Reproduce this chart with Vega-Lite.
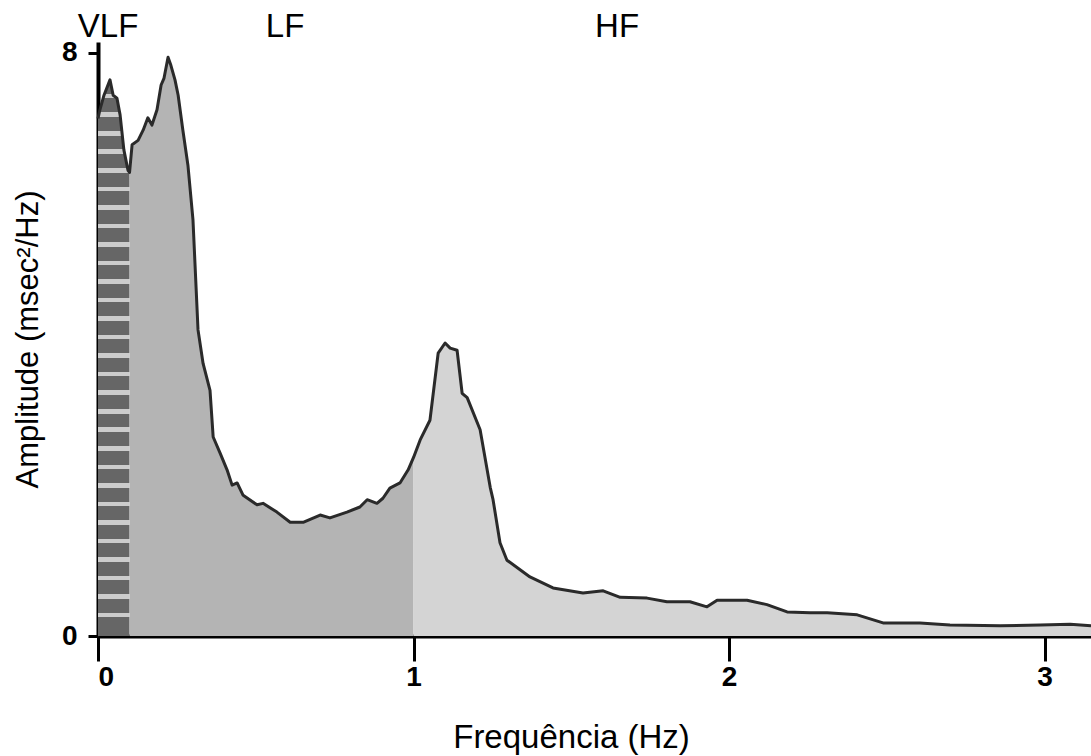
{
  "$schema": "https://vega.github.io/schema/vega-lite/v6.json",
  "width": 993,
  "height": 594,
  "autosize": "none",
  "padding": {"left": 98, "top": 42, "right": 0, "bottom": 120},
  "config": {
    "view": {"stroke": null},
    "font": "Liberation Sans",
    "axis": {"grid": false, "domainColor": "#000", "tickColor": "#000", "labelColor": "#000", "titleColor": "#000"}
  },
  "datasets": {
    "curve": [
      {"f": 0.0, "a": 7.1, "band": "VLF"},
      {"f": 0.006, "a": 7.22, "band": "VLF"},
      {"f": 0.019, "a": 7.42, "band": "VLF"},
      {"f": 0.038, "a": 7.63, "band": "VLF"},
      {"f": 0.048, "a": 7.42, "band": "VLF"},
      {"f": 0.06, "a": 7.38, "band": "VLF"},
      {"f": 0.07, "a": 7.15, "band": "VLF"},
      {"f": 0.082, "a": 6.67, "band": "VLF"},
      {"f": 0.095, "a": 6.39, "band": "VLF"},
      {"f": 0.1, "a": 6.36, "band": "VLF"},
      {"f": 0.1, "a": 6.36, "band": "LF"},
      {"f": 0.108, "a": 6.74, "band": "LF"},
      {"f": 0.127, "a": 6.8, "band": "LF"},
      {"f": 0.143, "a": 6.94, "band": "LF"},
      {"f": 0.158, "a": 7.11, "band": "LF"},
      {"f": 0.171, "a": 7.01, "band": "LF"},
      {"f": 0.187, "a": 7.22, "band": "LF"},
      {"f": 0.2, "a": 7.56, "band": "LF"},
      {"f": 0.209, "a": 7.65, "band": "LF"},
      {"f": 0.222, "a": 7.94, "band": "LF"},
      {"f": 0.231, "a": 7.83, "band": "LF"},
      {"f": 0.244, "a": 7.63, "band": "LF"},
      {"f": 0.254, "a": 7.42, "band": "LF"},
      {"f": 0.269, "a": 6.94, "band": "LF"},
      {"f": 0.285, "a": 6.46, "band": "LF"},
      {"f": 0.301, "a": 5.71, "band": "LF"},
      {"f": 0.317, "a": 4.2, "band": "LF"},
      {"f": 0.333, "a": 3.74, "band": "LF"},
      {"f": 0.355, "a": 3.37, "band": "LF"},
      {"f": 0.365, "a": 2.73, "band": "LF"},
      {"f": 0.387, "a": 2.51, "band": "LF"},
      {"f": 0.409, "a": 2.28, "band": "LF"},
      {"f": 0.425, "a": 2.07, "band": "LF"},
      {"f": 0.441, "a": 2.1, "band": "LF"},
      {"f": 0.46, "a": 1.93, "band": "LF"},
      {"f": 0.504, "a": 1.8, "band": "LF"},
      {"f": 0.523, "a": 1.82, "band": "LF"},
      {"f": 0.567, "a": 1.7, "band": "LF"},
      {"f": 0.609, "a": 1.56, "band": "LF"},
      {"f": 0.65, "a": 1.56, "band": "LF"},
      {"f": 0.704, "a": 1.66, "band": "LF"},
      {"f": 0.735, "a": 1.62, "band": "LF"},
      {"f": 0.789, "a": 1.7, "band": "LF"},
      {"f": 0.83, "a": 1.77, "band": "LF"},
      {"f": 0.853, "a": 1.87, "band": "LF"},
      {"f": 0.884, "a": 1.82, "band": "LF"},
      {"f": 0.903, "a": 1.89, "band": "LF"},
      {"f": 0.925, "a": 2.03, "band": "LF"},
      {"f": 0.957, "a": 2.1, "band": "LF"},
      {"f": 0.983, "a": 2.28, "band": "LF"},
      {"f": 1.0, "a": 2.45, "band": "LF"},
      {"f": 1.0, "a": 2.45, "band": "HF"},
      {"f": 1.021, "a": 2.69, "band": "HF"},
      {"f": 1.052, "a": 2.96, "band": "HF"},
      {"f": 1.078, "a": 3.88, "band": "HF"},
      {"f": 1.1, "a": 4.02, "band": "HF"},
      {"f": 1.116, "a": 3.95, "band": "HF"},
      {"f": 1.138, "a": 3.92, "band": "HF"},
      {"f": 1.154, "a": 3.33, "band": "HF"},
      {"f": 1.17, "a": 3.27, "band": "HF"},
      {"f": 1.211, "a": 2.83, "band": "HF"},
      {"f": 1.243, "a": 2.04, "band": "HF"},
      {"f": 1.252, "a": 1.87, "band": "HF"},
      {"f": 1.274, "a": 1.28, "band": "HF"},
      {"f": 1.296, "a": 1.04, "band": "HF"},
      {"f": 1.369, "a": 0.81, "band": "HF"},
      {"f": 1.442, "a": 0.66, "band": "HF"},
      {"f": 1.537, "a": 0.59, "band": "HF"},
      {"f": 1.601, "a": 0.62, "band": "HF"},
      {"f": 1.655, "a": 0.53, "band": "HF"},
      {"f": 1.74, "a": 0.52, "band": "HF"},
      {"f": 1.803, "a": 0.47, "band": "HF"},
      {"f": 1.876, "a": 0.47, "band": "HF"},
      {"f": 1.93, "a": 0.4, "band": "HF"},
      {"f": 1.962, "a": 0.49, "band": "HF"},
      {"f": 2.057, "a": 0.49, "band": "HF"},
      {"f": 2.12, "a": 0.43, "band": "HF"},
      {"f": 2.184, "a": 0.33, "band": "HF"},
      {"f": 2.257, "a": 0.32, "band": "HF"},
      {"f": 2.311, "a": 0.32, "band": "HF"},
      {"f": 2.406, "a": 0.29, "band": "HF"},
      {"f": 2.488, "a": 0.18, "band": "HF"},
      {"f": 2.605, "a": 0.18, "band": "HF"},
      {"f": 2.7, "a": 0.15, "band": "HF"},
      {"f": 2.859, "a": 0.14, "band": "HF"},
      {"f": 2.986, "a": 0.15, "band": "HF"},
      {"f": 3.081, "a": 0.16, "band": "HF"},
      {"f": 3.147, "a": 0.14, "band": "HF"}
    ],
    "bounds": [
      {"f": 0.1, "top": 8.23},
      {"f": 1.0, "top": 8.34}
    ],
    "labels": [
      {"f": 0.032, "a": 8.22, "name": "VLF"},
      {"f": 0.593, "a": 8.22, "name": "LF"},
      {"f": 1.645, "a": 8.22, "name": "HF"}
    ]
  },
  "encoding": {
    "x": {
      "field": "f", "type": "quantitative",
      "scale": {"domain": [0, 3.147], "nice": false, "zero": false},
      "axis": {
        "values": [0, 1, 2, 3], "format": "d",
        "title": "Frequência (Hz)", "titleFontSize": 33, "titleFontWeight": "normal",
        "titlePadding": 30, "titleX": 473,
        "labelFontSize": 28, "labelFontWeight": "bold", "labelPadding": 2,
        "tickSize": 25, "tickWidth": 3, "domainWidth": 4
      }
    },
    "y": {
      "field": "a", "type": "quantitative",
      "scale": {"domain": [0, 8.15], "nice": false},
      "axis": {
        "values": [0, 8], "format": "d",
        "title": "Amplitude (msec²/Hz)", "titleFontSize": 31, "titleFontWeight": "normal",
        "titlePadding": 17,
        "labelFontSize": 28, "labelFontWeight": "bold", "labelPadding": 11,
        "tickSize": 10, "tickWidth": 3, "domainWidth": 4
      }
    }
  },
  "layer": [
    {
      "data": {"name": "curve"},
      "transform": [{"filter": "datum.band === 'VLF'"}],
      "mark": {"type": "area", "fill": {
        "gradient": "linear", "x1": 0, "y1": 0, "x2": 0, "y2": 1,
        "stops": [
          {"offset": 0, "color": "#666666"}, {"offset": 0.025, "color": "#666666"}, {"offset": 0.025, "color": "#cccccc"},
          {"offset": 0.0333, "color": "#cccccc"}, {"offset": 0.0333, "color": "#666666"}, {"offset": 0.0583, "color": "#666666"}, {"offset": 0.0583, "color": "#cccccc"},
          {"offset": 0.0667, "color": "#cccccc"}, {"offset": 0.0667, "color": "#666666"}, {"offset": 0.0917, "color": "#666666"}, {"offset": 0.0917, "color": "#cccccc"},
          {"offset": 0.1, "color": "#cccccc"}, {"offset": 0.1, "color": "#666666"}, {"offset": 0.125, "color": "#666666"}, {"offset": 0.125, "color": "#cccccc"},
          {"offset": 0.1333, "color": "#cccccc"}, {"offset": 0.1333, "color": "#666666"}, {"offset": 0.1583, "color": "#666666"}, {"offset": 0.1583, "color": "#cccccc"},
          {"offset": 0.1667, "color": "#cccccc"}, {"offset": 0.1667, "color": "#666666"}, {"offset": 0.1917, "color": "#666666"}, {"offset": 0.1917, "color": "#cccccc"},
          {"offset": 0.2, "color": "#cccccc"}, {"offset": 0.2, "color": "#666666"}, {"offset": 0.225, "color": "#666666"}, {"offset": 0.225, "color": "#cccccc"},
          {"offset": 0.2333, "color": "#cccccc"}, {"offset": 0.2333, "color": "#666666"}, {"offset": 0.2583, "color": "#666666"}, {"offset": 0.2583, "color": "#cccccc"},
          {"offset": 0.2667, "color": "#cccccc"}, {"offset": 0.2667, "color": "#666666"}, {"offset": 0.2917, "color": "#666666"}, {"offset": 0.2917, "color": "#cccccc"},
          {"offset": 0.3, "color": "#cccccc"}, {"offset": 0.3, "color": "#666666"}, {"offset": 0.325, "color": "#666666"}, {"offset": 0.325, "color": "#cccccc"},
          {"offset": 0.3333, "color": "#cccccc"}, {"offset": 0.3333, "color": "#666666"}, {"offset": 0.3583, "color": "#666666"}, {"offset": 0.3583, "color": "#cccccc"},
          {"offset": 0.3667, "color": "#cccccc"}, {"offset": 0.3667, "color": "#666666"}, {"offset": 0.3917, "color": "#666666"}, {"offset": 0.3917, "color": "#cccccc"},
          {"offset": 0.4, "color": "#cccccc"}, {"offset": 0.4, "color": "#666666"}, {"offset": 0.425, "color": "#666666"}, {"offset": 0.425, "color": "#cccccc"},
          {"offset": 0.4333, "color": "#cccccc"}, {"offset": 0.4333, "color": "#666666"}, {"offset": 0.4583, "color": "#666666"}, {"offset": 0.4583, "color": "#cccccc"},
          {"offset": 0.4667, "color": "#cccccc"}, {"offset": 0.4667, "color": "#666666"}, {"offset": 0.4917, "color": "#666666"}, {"offset": 0.4917, "color": "#cccccc"},
          {"offset": 0.5, "color": "#cccccc"}, {"offset": 0.5, "color": "#666666"}, {"offset": 0.525, "color": "#666666"}, {"offset": 0.525, "color": "#cccccc"},
          {"offset": 0.5333, "color": "#cccccc"}, {"offset": 0.5333, "color": "#666666"}, {"offset": 0.5583, "color": "#666666"}, {"offset": 0.5583, "color": "#cccccc"},
          {"offset": 0.5667, "color": "#cccccc"}, {"offset": 0.5667, "color": "#666666"}, {"offset": 0.5917, "color": "#666666"}, {"offset": 0.5917, "color": "#cccccc"},
          {"offset": 0.6, "color": "#cccccc"}, {"offset": 0.6, "color": "#666666"}, {"offset": 0.625, "color": "#666666"}, {"offset": 0.625, "color": "#cccccc"},
          {"offset": 0.6333, "color": "#cccccc"}, {"offset": 0.6333, "color": "#666666"}, {"offset": 0.6583, "color": "#666666"}, {"offset": 0.6583, "color": "#cccccc"},
          {"offset": 0.6667, "color": "#cccccc"}, {"offset": 0.6667, "color": "#666666"}, {"offset": 0.6917, "color": "#666666"}, {"offset": 0.6917, "color": "#cccccc"},
          {"offset": 0.7, "color": "#cccccc"}, {"offset": 0.7, "color": "#666666"}, {"offset": 0.725, "color": "#666666"}, {"offset": 0.725, "color": "#cccccc"},
          {"offset": 0.7333, "color": "#cccccc"}, {"offset": 0.7333, "color": "#666666"}, {"offset": 0.7583, "color": "#666666"}, {"offset": 0.7583, "color": "#cccccc"},
          {"offset": 0.7667, "color": "#cccccc"}, {"offset": 0.7667, "color": "#666666"}, {"offset": 0.7917, "color": "#666666"}, {"offset": 0.7917, "color": "#cccccc"},
          {"offset": 0.8, "color": "#cccccc"}, {"offset": 0.8, "color": "#666666"}, {"offset": 0.825, "color": "#666666"}, {"offset": 0.825, "color": "#cccccc"},
          {"offset": 0.8333, "color": "#cccccc"}, {"offset": 0.8333, "color": "#666666"}, {"offset": 0.8583, "color": "#666666"}, {"offset": 0.8583, "color": "#cccccc"},
          {"offset": 0.8667, "color": "#cccccc"}, {"offset": 0.8667, "color": "#666666"}, {"offset": 0.8917, "color": "#666666"}, {"offset": 0.8917, "color": "#cccccc"},
          {"offset": 0.9, "color": "#cccccc"}, {"offset": 0.9, "color": "#666666"}, {"offset": 0.925, "color": "#666666"}, {"offset": 0.925, "color": "#cccccc"},
          {"offset": 0.9333, "color": "#cccccc"}, {"offset": 0.9333, "color": "#666666"}, {"offset": 0.9583, "color": "#666666"}, {"offset": 0.9583, "color": "#cccccc"},
          {"offset": 0.9667, "color": "#cccccc"}, {"offset": 0.9667, "color": "#666666"}, {"offset": 1, "color": "#666666"}
        ]
      }}
    },
    {
      "data": {"name": "curve"},
      "transform": [{"filter": "datum.band === 'LF'"}],
      "mark": {"type": "area", "fill": "#b4b4b4"}
    },
    {
      "data": {"name": "curve"},
      "transform": [{"filter": "datum.band === 'HF'"}],
      "mark": {"type": "area", "fill": "#d4d4d4"}
    },
    {
      "data": {"name": "curve"},
      "mark": {"type": "line", "stroke": "#2a2a2a", "strokeWidth": 3, "strokeJoin": "round"}
    },
    {
      "data": {"name": "bounds"},
      "mark": {"type": "rule", "stroke": "#000000", "strokeWidth": 1.3},
      "encoding": {
        "x": {"field": "f", "type": "quantitative"},
        "y": {"datum": 0},
        "y2": {"field": "top"}
      }
    },
    {
      "data": {"name": "labels"},
      "mark": {"type": "text", "fontSize": 33, "align": "center", "baseline": "alphabetic", "color": "#000000"},
      "encoding": {
        "text": {"field": "name"}
      }
    }
  ]
}
